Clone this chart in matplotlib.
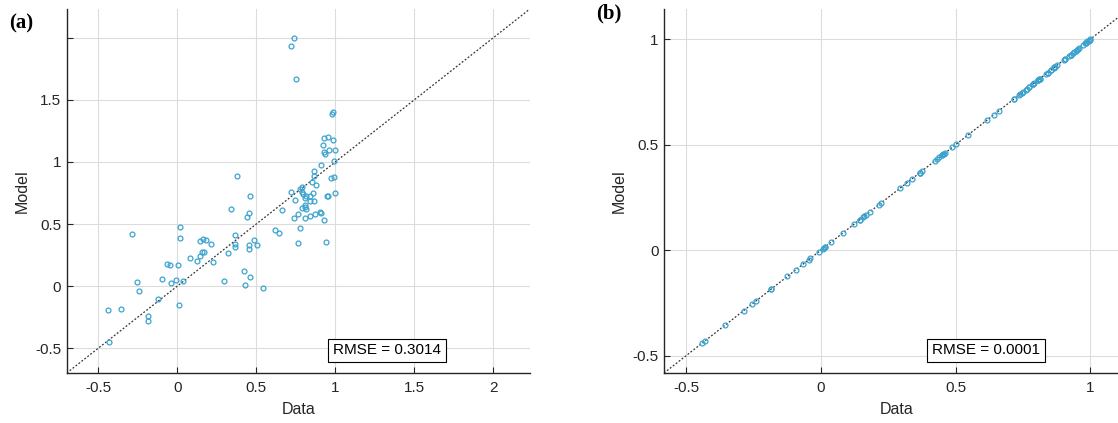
import matplotlib
matplotlib.use("Agg")
import matplotlib.pyplot as plt

plt.rcParams['font.family'] = ['Liberation Sans', 'DejaVu Sans']

# (a) data vs model
data_a = [-0.44, -0.43, -0.357, -0.287, -0.256, -0.243, -0.186, -0.186, -0.125, -0.094,
          -0.066, -0.045, -0.039, -0.007, 0.006, 0.012, 0.014, 0.014, 0.039,
          0.082, 0.124, 0.145, 0.145, 0.156, 0.166, 0.16, 0.181, 0.215, 0.223, 0.295,
          0.32, 0.337, 0.367, 0.367, 0.367, 0.377, 0.424, 0.43, 0.44, 0.451,
          0.451, 0.455, 0.457, 0.46, 0.487, 0.502, 0.545, 0.618, 0.643, 0.662,
          0.719, 0.718, 0.74, 0.749, 0.736, 0.747, 0.761, 0.764, 0.774, 0.774,
          0.787, 0.787, 0.793, 0.806, 0.81, 0.789, 0.814, 0.808, 0.808, 0.814,
          0.842, 0.842, 0.856, 0.837, 0.867, 0.869, 0.854, 0.878, 0.867, 0.865,
          0.903, 0.907, 0.907, 0.92, 0.928, 0.954, 0.983, 0.928, 0.935, 0.96,
          0.998, 0.985, 0.981, 0.994, 0.975, 0.99, 0.928, 0.941, 0.947, 0.951, 1.0]
model_a = [-0.193, -0.453, -0.185, 0.416, 0.032, -0.043, -0.244, -0.279, -0.107, 0.06,
           0.177, 0.167, 0.022, 0.048, 0.169, -0.153, 0.478, 0.39, 0.043,
           0.225, 0.199, 0.242, 0.36, 0.274, 0.274, 0.38, 0.368, 0.338, 0.196, 0.04,
           0.266, 0.62, 0.408, 0.341, 0.317, 0.889, 0.121, 0.006, 0.559, 0.585,
           0.328, 0.295, 0.725, 0.07, 0.37, 0.33, -0.013, 0.451, 0.43, 0.612,
           0.757, 1.93, 1.995, 1.667, 0.551, 0.696, 0.577, 0.344, 0.784, 0.465,
           0.797, 0.76, 0.744, 0.65, 0.636, 0.628, 0.618, 0.551, 0.712, 0.725,
           0.725, 0.567, 0.746, 0.684, 0.684, 0.583, 0.837, 0.816, 0.923, 0.889,
           0.593, 0.591, 0.977, 1.133, 1.19, 1.20, 1.18, 1.082, 1.066, 1.10,
           1.093, 1.40, 1.39, 1.004, 0.867, 0.878, 0.529, 0.357, 0.728, 0.725, 0.749]

# (b) same data, model sits on the 1:1 line
data_b = data_a
model_b = [-0.44, -0.43, -0.357, -0.287, -0.256, -0.243, -0.186, -0.186, -0.125, -0.094,
           -0.066, -0.045, -0.039, -0.007, 0.006, 0.012, 0.014, 0.014, 0.039,
           0.082, 0.124, 0.145, 0.145, 0.156, 0.166, 0.16, 0.181, 0.215, 0.223, 0.295,
           0.32, 0.337, 0.367, 0.367, 0.367, 0.377, 0.424, 0.43, 0.44, 0.451,
           0.451, 0.455, 0.457, 0.46, 0.487, 0.502, 0.545, 0.618, 0.643, 0.662,
           0.719, 0.718, 0.74, 0.749, 0.736, 0.747, 0.761, 0.764, 0.774, 0.774,
           0.787, 0.787, 0.793, 0.806, 0.81, 0.789, 0.814, 0.808, 0.808, 0.814,
           0.842, 0.842, 0.856, 0.837, 0.867, 0.869, 0.854, 0.878, 0.867, 0.865,
           0.903, 0.907, 0.907, 0.92, 0.928, 0.954, 0.983, 0.928, 0.935, 0.96,
           0.998, 0.985, 0.981, 0.994, 0.975, 0.99, 0.928, 0.941, 0.947, 0.951, 1.0]

rmse_a = "RMSE = 0.3014"
rmse_b = "RMSE = 0.0001"

ticks_a = [-0.5, 0, 0.5, 1, 1.5, 2]
xlabels_a = ['-0.5', '0', '0.5', '1', '1.5', '2']
ylabels_a = ['-0.5', '0', '0.5', '1', '1.5', '']
ticks_b = [-0.5, 0, 0.5, 1]
labels_b = ['-0.5', '0', '0.5', '1']

DOT_COLOR = '#3BA3CF'
AX_COLOR = '#262626'

fig = plt.figure(figsize=(11.18, 4.23), dpi=100)
ax_a = fig.add_axes([0.0597, 0.1182, 0.414, 0.86])
ax_b = fig.add_axes([0.5939, 0.1182, 0.4156, 0.86])


def style_axes(ax, lims, ticks, xlabels, ylabels):
    ax.set_xlim(lims)
    ax.set_ylim(lims)
    ax.set_xticks(ticks)
    ax.set_yticks(ticks)
    ax.set_xticklabels(xlabels)
    ax.set_yticklabels(ylabels)
    ax.grid(True, color='#DCDCDC', lw=0.8)
    ax.set_axisbelow(True)
    for side in ['top', 'right']:
        ax.spines[side].set_visible(False)
    for side in ['left', 'bottom']:
        ax.spines[side].set_color(AX_COLOR)
        ax.spines[side].set_linewidth(1.0)
    ax.tick_params(axis='both', direction='in', length=4, width=0.8,
                   colors=AX_COLOR, labelsize=11)
    ax.tick_params(axis='x', pad=6)
    ax.tick_params(axis='y', pad=4)
    ax.set_xlabel('Data', fontsize=11.5, color=AX_COLOR)
    ax.set_ylabel('Model', fontsize=11.5, color=AX_COLOR)
    ax.xaxis.set_label_coords(0.5, -0.08)
    ax.yaxis.set_label_coords(-0.08, 0.5)
    ax.axline((0, 0), slope=1, color='#333333', lw=0.9, ls=(0, (1.5, 1.5)), zorder=1)


style_axes(ax_a, (-0.70, 2.23), ticks_a, xlabels_a, ylabels_a)
ax_a.plot(data_a, model_a, 'o', mfc='none', mec=DOT_COLOR, ms=3.5, mew=0.9, zorder=2)
ax_a.text(0.692, 0.062, rmse_a, transform=ax_a.transAxes, ha='center', va='center',
          fontsize=11, color='black',
          bbox=dict(boxstyle='square,pad=0.3', fc='white', ec='black', lw=0.8))

style_axes(ax_b, (-0.583, 1.143), ticks_b, labels_b, labels_b)
ax_b.plot(data_b, model_b, 'o', mfc='none', mec=DOT_COLOR, ms=3.5, mew=0.9, zorder=2)
ax_b.text(0.693, 0.062, rmse_b, transform=ax_b.transAxes, ha='center', va='center',
          fontsize=11, color='black',
          bbox=dict(boxstyle='square,pad=0.3', fc='white', ec='black', lw=0.8))

fig.text(0.008, 0.9456, '(a)', fontfamily='Liberation Serif', fontweight='bold',
         fontsize=15, ha='left', va='center')
fig.text(0.533, 0.968, '(b)', fontfamily='Liberation Serif', fontweight='bold',
         fontsize=15, ha='left', va='center')

fig.savefig('out.png', dpi=100)
